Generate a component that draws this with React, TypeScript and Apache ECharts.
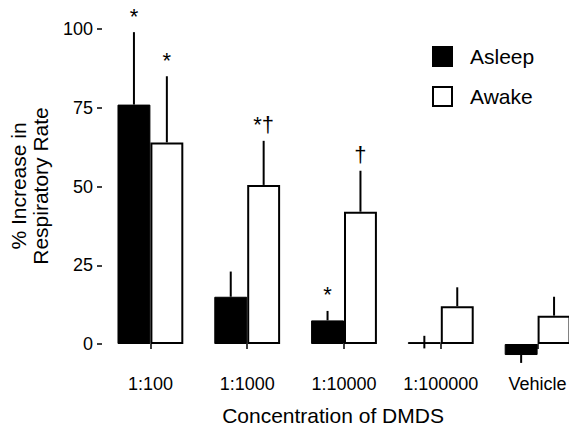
import React, { useEffect, useRef } from "react";
import * as echarts from "echarts";

const categories = ["1:100", "1:1000", "1:10000", "1:100000", "Vehicle"];
const asleepValues = [76, 15, 7.5, 0.6, -3.5];
const asleepErrors = [23, 8, 3, 2, 2.5];
const asleepMarks = ["*", "", "*", "", ""];
const awakeValues = [64, 50.5, 42, 12, 9];
const awakeErrors = [21, 14, 13, 6, 6];
const awakeMarks = ["*", "*\u2020", "\u2020", "", ""];

const FONT = '"Liberation Sans", Arial, Helvetica, sans-serif';
const BAR_RATIO = 0.34;

function errorSeries(name: string, values: number[], errors: number[], marks: string[], side: number) {
  return {
    type: "custom",
    name,
    clip: false,
    silent: true,
    z: 5,
    data: values.map((v, i) => [i, v, errors[i]]),
    encode: { x: 0, y: 1 },
    renderItem: (params: any, api: any) => {
      const i = api.value(0);
      const v = api.value(1);
      const e = api.value(2);
      const base = api.coord([i, v]);
      const bw = api.size([1, 0])[0] * BAR_RATIO;
      const x = base[0] + (side * bw) / 2;
      const tiny = Math.abs(v) < e;
      const dir = v < 0 ? -1 : 1;
      const top = api.coord([i, tiny ? v + e : v + dir * e])[1];
      const bottom = tiny ? api.coord([i, v - e])[1] : base[1];
      const children: any[] = [
        {
          type: "line",
          shape: { x1: x, y1: bottom, x2: x, y2: top },
          style: { stroke: "#000", lineWidth: 2 },
        },
      ];
      const m = marks[params.dataIndex];
      if (m) {
        children.push({
          type: "text",
          x,
          y: top - 5,
          style: {
            text: m,
            font: `22px ${FONT}`,
            fill: "#000",
            align: "center",
            verticalAlign: "bottom",
          },
        });
      }
      return { type: "group", children };
    },
  };
}

export default function App() {
  const ref = useRef<HTMLDivElement>(null);
  useEffect(() => {
    document.body.style.margin = "0";
    if (!ref.current) return;
    const chart = echarts.init(ref.current, null, { renderer: "svg" });
    chart.setOption({
      animation: false,
      backgroundColor: "#fff",
      textStyle: { fontFamily: FONT },
      grid: { left: 102, right: -17, top: 29, bottom: 85, containLabel: false, outerBoundsMode: "none" },
      legend: {
        data: ["Asleep", "Awake"],
        orient: "vertical",
        left: 432,
        top: 46,
        padding: 0,
        itemWidth: 19,
        itemHeight: 19,
        itemGap: 19,
        icon: "rect",
        selectedMode: false,
        textStyle: { fontSize: 21, color: "#000", fontFamily: FONT, padding: [0, 0, 0, 13] },
      },
      xAxis: {
        type: "category",
        data: categories,
        axisLine: { show: false },
        axisTick: { show: true, alignWithLabel: true, length: 5, lineStyle: { color: "#000", width: 1.5 } },
        axisLabel: { interval: 0, fontSize: 18, color: "#000", margin: 31, fontFamily: FONT },
        splitLine: { show: false },
      },
      yAxis: {
        type: "value",
        min: 0,
        max: 100,
        interval: 25,
        axisLine: { show: false },
        splitLine: { show: false },
        axisTick: { show: true, length: 5, lineStyle: { color: "#000", width: 1.5 } },
        axisLabel: { fontSize: 18, color: "#000", margin: 9, fontFamily: FONT },
      },
      graphic: [
        {
          type: "text",
          x: 29,
          y: 186,
          rotation: Math.PI / 2,
          style: {
            text: "% Increase in\nRespiratory Rate",
            font: `21px ${FONT}`,
            fill: "#000",
            align: "center",
            verticalAlign: "middle",
            textAlign: "center",
            textVerticalAlign: "middle",
            lineHeight: 22,
          },
        },
        {
          type: "text",
          x: 333,
          y: 415,
          style: {
            text: "Concentration of DMDS",
            font: `21px ${FONT}`,
            fill: "#000",
            align: "center",
            verticalAlign: "middle",
            textAlign: "center",
            textVerticalAlign: "middle",
          },
        },
      ],
      series: [
        {
          name: "Asleep",
          type: "bar",
          data: asleepValues,
          barWidth: "34%",
          barGap: "0%",
          clip: false,
          itemStyle: { color: "#000", borderColor: "#000", borderWidth: 1 },
        },
        {
          name: "Awake",
          type: "bar",
          data: awakeValues,
          barWidth: "34%",
          barGap: "0%",
          clip: false,
          itemStyle: { color: "#fff", borderColor: "#000", borderWidth: 2 },
        },
        errorSeries("errAsleep", asleepValues, asleepErrors, asleepMarks, -1),
        errorSeries("errAwake", awakeValues, awakeErrors, awakeMarks, 1),
      ],
    });
    return () => chart.dispose();
  }, []);
  return <div ref={ref} style={{ width: 569, height: 429 }} />;
}
